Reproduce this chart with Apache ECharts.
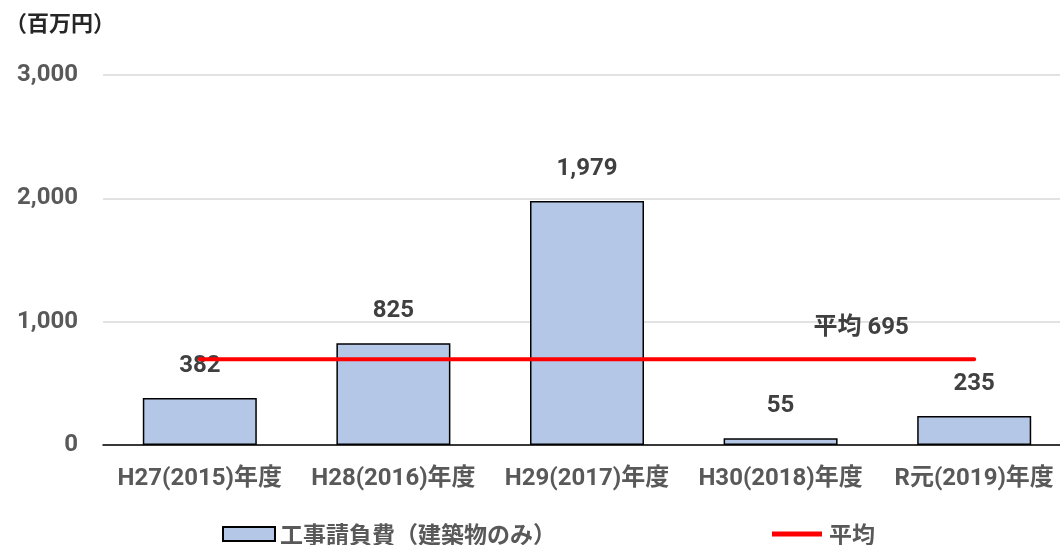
<!DOCTYPE html>
<html><head><meta charset="utf-8">
<script src="https://cdn.jsdelivr.net/npm/echarts@6/dist/echarts.min.js"></script>
<style>html,body{margin:0;padding:0;background:#fff}#c{width:1060px;height:545px}</style>
</head><body><div id="c"></div>
<script>
const categories = ['H27(2015)年度','H28(2016)年度','H29(2017)年度','H30(2018)年度','R元(2019)年度'];
const costValues = [382, 825, 1979, 55, 235];
const averageValue = 695;
const averageValues = [695, 695, 695, 695, 695];
const yTicks = [0, 1000, 2000, 3000];
const seriesNames = ['工事請負費（建築物のみ）', '平均'];
const unitLabel = '（百万円）';

const FONT = 'Roboto, "Noto Sans CJK JP", "Noto Sans", sans-serif';
const CJK = '"Noto Sans CJK JP", "Noto Sans", sans-serif';
const chart = echarts.init(document.getElementById('c'), null, {renderer:'canvas'});
chart.setOption({
  animation: false,
  textStyle: {fontFamily: FONT},
  title: {text: unitLabel, left: 0, top: 7, textStyle: {fontFamily: CJK, fontSize: 22, fontWeight: 'bold', color: '#262626'}},
  legend: [
    {data: [{name: seriesNames[0], icon: 'rect'}], left: 217, top: 516, itemWidth: 52, itemHeight: 14, itemGap: 5,
     textStyle: {fontFamily: CJK, fontSize: 23, fontWeight: 'bold', color: '#595959', lineHeight: 26}},
    {data: [{name: seriesNames[1], icon: 'path://M0,0 L10,0 L10,1 L0,1 Z'}], left: 767, top: 516, itemWidth: 54, itemHeight: 5,
     textStyle: {fontFamily: CJK, fontSize: 23, fontWeight: 'bold', color: '#595959', lineHeight: 26}}
  ],
  grid: {left: 103, top: 75, right: -11, bottom: 100, containLabel: false, outerBoundsMode: 'none'},
  xAxis: {
    type: 'category', data: categories,
    axisLine: {lineStyle: {color: '#000', width: 1.5}},
    axisTick: {alignWithLabel: true, length: 5, lineStyle: {color: '#000', width: 1.5}},
    axisLabel: {interval: 0, hideOverlap: false, margin: 22, fontFamily: FONT, fontSize: 24, fontWeight: 'bold', color: '#595959'}
  },
  yAxis: {
    type: 'value', min: 0, max: 3000, interval: 1000,
    axisLine: {show: false}, axisTick: {show: false},
    splitLine: {lineStyle: {color: '#d9d9d9', width: 1.5}},
    axisLabel: {margin: 25, fontFamily: FONT, fontSize: 24, fontWeight: 'bold', color: '#595959',
      formatter: v => yTicks.includes(v) ? v.toLocaleString('en-US') : ''}
  },
  series: [
    {name: seriesNames[0], type: 'bar', data: costValues, barWidth: 114,
     itemStyle: {color: '#b4c7e7', borderColor: '#000', borderWidth: 1.5},
     label: {show: true, position: 'top', distance: 20, fontFamily: FONT, fontSize: 24, fontWeight: 'bold', color: '#404040',
       formatter: p => p.value.toLocaleString('en-US')}},
    {name: seriesNames[1], type: 'line', data: averageValues.map((v, i) => i === averageValues.length - 1 ? {value: v, label: {show: true}} : v),
     symbol: 'circle', symbolSize: 0, showSymbol: true, showAllSymbol: true, z: 5,
     lineStyle: {color: '#ff0000', width: 4, cap: 'round'},
     itemStyle: {color: '#ff0000'},
     label: {show: false, position: 'top', distance: 5, offset: [-113, -14], fontFamily: FONT, fontSize: 24, fontWeight: 'bold', color: '#404040',
       formatter: () => '平均 ' + averageValue}}
  ]
});
</script></body></html>
